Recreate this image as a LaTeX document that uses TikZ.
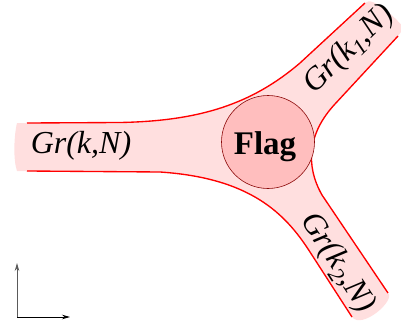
\documentclass[tikz,border=0pt]{standalone}
\usepackage{fontspec}
\setmainfont{Liberation Serif}
\usetikzlibrary{arrows.meta}
\definecolor{bandpink}{RGB}{255,223,223}
\definecolor{flagpink}{RGB}{255,190,190}
\definecolor{flagedge}{RGB}{140,10,10}
\definecolor{axisgray}{RGB}{90,90,90}
\tikzset{
  band/.style={fill=bandpink, draw=none},
  bandedge/.style={draw=red, line width=1.35pt},
  flagcircle/.style={circle, fill=flagpink, draw=flagedge, line width=0.6pt, minimum size=93pt, inner sep=0pt},
  grlabel/.style={font=\fontsize{32}{36}\selectfont\itshape, inner sep=0pt},
  flaglabel/.style={font=\fontsize{33}{36}\selectfont\bfseries, inner sep=0pt},
  axisarrow/.style={line width=0.8pt, -{Stealth[length=8pt,width=4.5pt]}}
}
\begin{document}
\begin{tikzpicture}[x=1pt,y=-1pt]
\useasboundingbox (0,0) rectangle (401,326);
% pink band
\path[band] (27,123) -- (120,122.5) .. controls (200,121) and (252,104) .. (300,63) -- (365,3)
  .. controls (372,-5) and (396,18) .. (404,28) -- (398,36) -- (335,104)
  .. controls (308,133) and (305,165) .. (322,195) -- (388,293)
  .. controls (396,300) and (362,330) .. (352,317) -- (310,252)
  .. controls (285,213) and (250,178) .. (160,172) -- (27,171)
  -- (17,171) .. controls (13,160) and (14,135) .. (17,123) -- cycle;
% red edges
\draw[bandedge] (27,123) -- (120,122.5) .. controls (200,121) and (252,104) .. (300,63) -- (365,3);
\draw[bandedge] (398,36) -- (335,104) .. controls (308,133) and (305,165) .. (322,195) -- (388,293);
\draw[bandedge] (352,317) -- (310,252) .. controls (285,213) and (250,178) .. (160,172) -- (27,171);
% flag circle
\node[flagcircle] (flag) at (268,142) {};
\node[flaglabel] (flagtext) at (265,147) {Flag};
% labels
\node[grlabel] (gr) at (81,146) {Gr(k,N)};
\node[grlabel, rotate=44] (gr1) at (349,50) {Gr(k\textsubscript{1},N)};
\node[grlabel, rotate=-57] (gr2) at (337,263) {Gr(k\textsubscript{2},N)};
% axes
\coordinate (o) at (17,317);
\coordinate (ay) at (17,263);
\coordinate (ax) at (70,317);
\draw[axisarrow, draw=axisgray] (o) -- (ay);
\draw[axisarrow] (o) -- (ax);
\end{tikzpicture}
\end{document}
